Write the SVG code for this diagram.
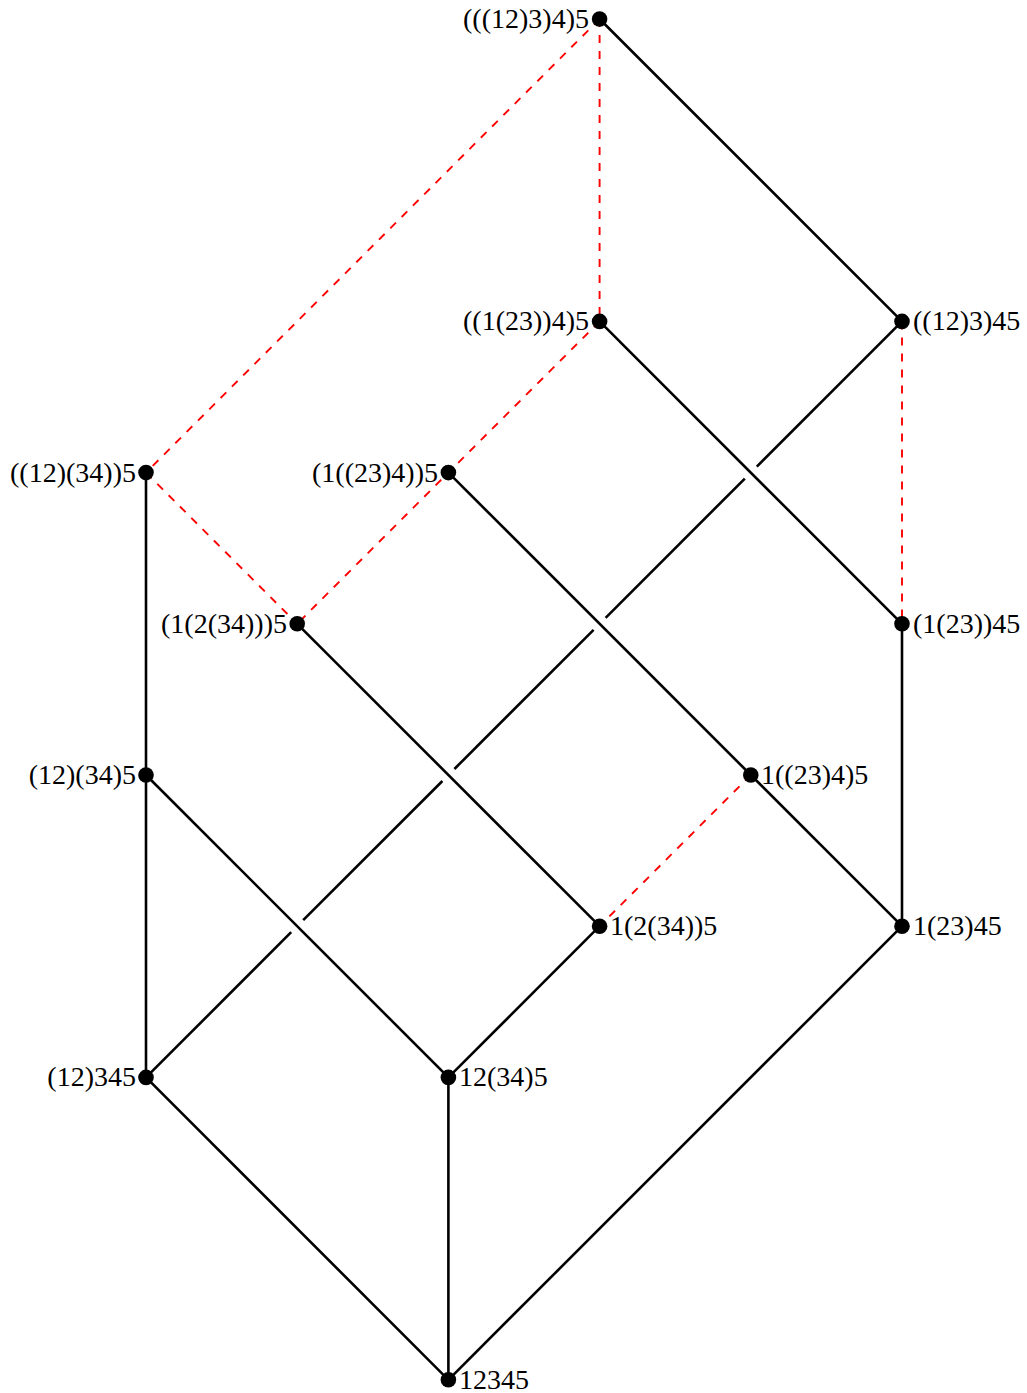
<svg xmlns="http://www.w3.org/2000/svg" width="1027" height="1393" viewBox="0 0 1027 1393">
<style>
.e{stroke:#000;stroke-width:2.6;fill:none;stroke-linecap:butt}
.d{stroke:#ff0000;stroke-width:1.9;fill:none;stroke-dasharray:8 8}
.n{fill:#000}
text{font-family:"Liberation Serif","Times New Roman",serif;font-size:28px;fill:#000}
.l{text-anchor:end}
</style>
<rect width="1027" height="1393" fill="#fff"/>
<g id="connectors">
<line class="d" x1="599.6" y1="19" x2="146" y2="472.6"/>
<line class="d" x1="599.6" y1="19" x2="599.6" y2="321.4"/>
<line class="d" x1="599.6" y1="321.4" x2="297.2" y2="623.8"/>
<line class="d" x1="146" y1="472.6" x2="297.2" y2="623.8"/>
<line class="d" x1="902" y1="321.4" x2="902" y2="623.8"/>
<line class="d" x1="750.8" y1="775" x2="599.6" y2="926.2"/>
<line class="e" x1="599.6" y1="19" x2="902" y2="321.4"/>
<line class="e" x1="902" y1="321.4" x2="756.8" y2="466.6"/>
<line class="e" x1="744.8" y1="478.6" x2="605.6" y2="617.8"/>
<line class="e" x1="593.6" y1="629.8" x2="454.4" y2="769"/>
<line class="e" x1="442.4" y1="781" x2="303.2" y2="920.2"/>
<line class="e" x1="291.2" y1="932.2" x2="146" y2="1077.4"/>
<line class="e" x1="599.6" y1="321.4" x2="902" y2="623.8"/>
<line class="e" x1="448.4" y1="472.6" x2="750.8" y2="775"/>
<line class="e" x1="297.2" y1="623.8" x2="599.6" y2="926.2"/>
<line class="e" x1="146" y1="775" x2="448.4" y2="1077.4"/>
<line class="e" x1="146" y1="472.6" x2="146" y2="1077.4"/>
<line class="e" x1="902" y1="623.8" x2="902" y2="926.2"/>
<line class="e" x1="750.8" y1="775" x2="902" y2="926.2"/>
<line class="e" x1="599.6" y1="926.2" x2="448.4" y2="1077.4"/>
<line class="e" x1="146" y1="1077.4" x2="448.4" y2="1379.8"/>
<line class="e" x1="448.4" y1="1077.4" x2="448.4" y2="1379.8"/>
<line class="e" x1="902" y1="926.2" x2="448.4" y2="1379.8"/>
</g>
<g id="nA"><circle class="n" cx="599.6" cy="19" r="7.8"/><text class="l" x="589" y="28">(((12)3)4)5</text></g>
<g id="nB"><circle class="n" cx="599.6" cy="321.4" r="7.8"/><text class="l" x="589" y="330.4">((1(23))4)5</text></g>
<g id="nC"><circle class="n" cx="902" cy="321.4" r="7.8"/><text x="913" y="330.4">((12)3)45</text></g>
<g id="nD"><circle class="n" cx="146" cy="472.6" r="7.8"/><text class="l" x="136" y="481.6">((12)(34))5</text></g>
<g id="nE"><circle class="n" cx="448.4" cy="472.6" r="7.8"/><text class="l" x="438" y="481.6">(1((23)4))5</text></g>
<g id="nF"><circle class="n" cx="297.2" cy="623.8" r="7.8"/><text class="l" x="287" y="632.8">(1(2(34)))5</text></g>
<g id="nG"><circle class="n" cx="902" cy="623.8" r="7.8"/><text x="913" y="632.8">(1(23))45</text></g>
<g id="nH"><circle class="n" cx="146" cy="775" r="7.8"/><text class="l" x="136" y="784">(12)(34)5</text></g>
<g id="nI"><circle class="n" cx="750.8" cy="775" r="7.8"/><text x="761" y="784">1((23)4)5</text></g>
<g id="nJ"><circle class="n" cx="599.6" cy="926.2" r="7.8"/><text x="610" y="935.2">1(2(34))5</text></g>
<g id="nK"><circle class="n" cx="902" cy="926.2" r="7.8"/><text x="913" y="935.2">1(23)45</text></g>
<g id="nL"><circle class="n" cx="146" cy="1077.4" r="7.8"/><text class="l" x="136" y="1086.4">(12)345</text></g>
<g id="nM"><circle class="n" cx="448.4" cy="1077.4" r="7.8"/><text x="459" y="1086.4">12(34)5</text></g>
<g id="nN"><circle class="n" cx="448.4" cy="1379.8" r="7.8"/><text x="459" y="1388.8">12345</text></g>
</svg>
